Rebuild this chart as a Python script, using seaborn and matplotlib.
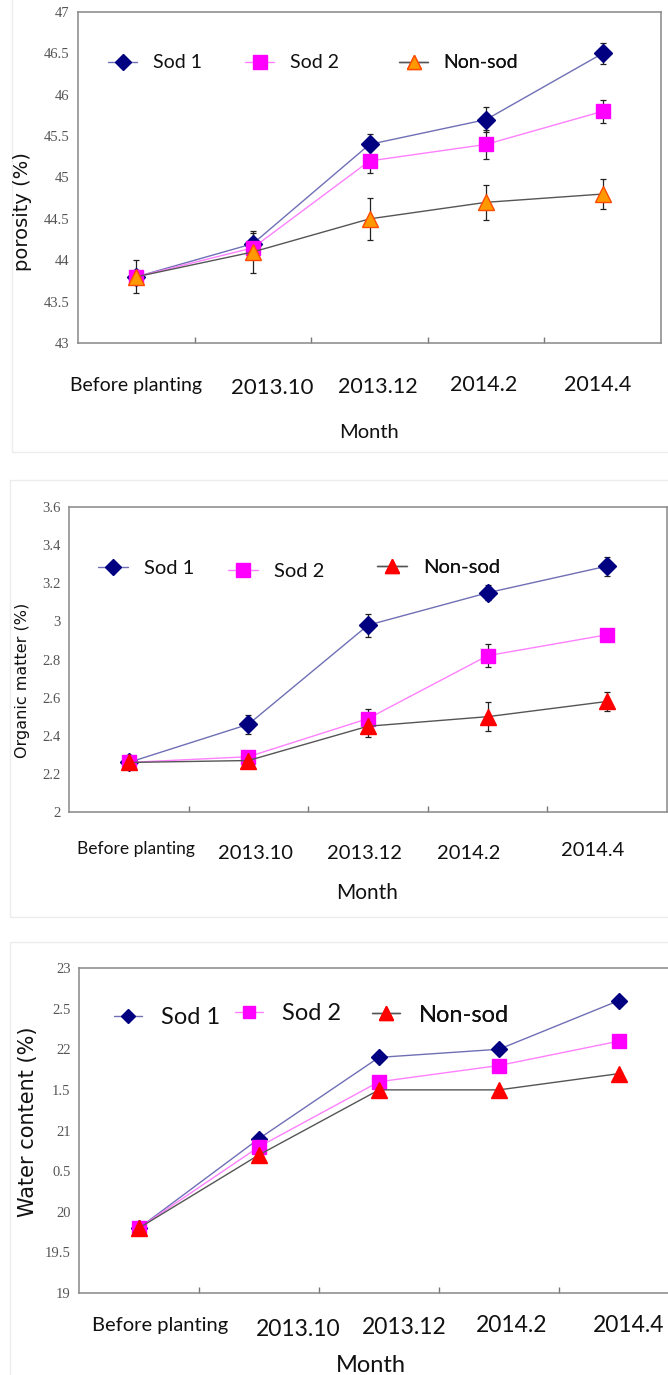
import numpy as np
import pandas as pd
import matplotlib
matplotlib.use("Agg")
import matplotlib.pyplot as plt
from matplotlib.lines import Line2D
from matplotlib.patches import Rectangle
import matplotlib.transforms as mtransforms
import seaborn as sns

# ---------------- data ----------------
months = ["Before planting", "2013.10", "2013.12", "2014.2", "2014.4"]
treatments = ["Sod 1", "Sod 2", "Non-sod"]

porosity_sod1 = [43.8, 44.2, 45.4, 45.7, 46.5]
porosity_sod2 = [43.8, 44.15, 45.2, 45.4, 45.8]
porosity_nonsod = [43.8, 44.1, 44.5, 44.7, 44.8]
porosity_err_sod1 = [0.0, 0.13, 0.13, 0.15, 0.13]
porosity_err_sod2 = [0.0, 0.0, 0.15, 0.18, 0.14]
porosity_err_nonsod = [0.2, 0.25, 0.25, 0.21, 0.18]

organic_sod1 = [2.26, 2.46, 2.98, 3.15, 3.29]
organic_sod2 = [2.26, 2.29, 2.49, 2.82, 2.93]
organic_nonsod = [2.26, 2.27, 2.45, 2.50, 2.58]
organic_err_sod1 = [0.0, 0.05, 0.06, 0.04, 0.05]
organic_err_sod2 = [0.0, 0.0, 0.05, 0.06, 0.02]
organic_err_nonsod = [0.0, 0.0, 0.055, 0.076, 0.05]

water_sod1 = [19.8, 20.9, 21.9, 22.0, 22.6]
water_sod2 = [19.8, 20.8, 21.6, 21.8, 22.1]
water_nonsod = [19.8, 20.7, 21.5, 21.5, 21.7]

porosity_ticks = [43, 43.5, 44, 44.5, 45, 45.5, 46, 46.5, 47]
porosity_ticklabels = ["43", "43.5", "44", "44.5", "45", "45.5", "46", "46.5", "47"]
organic_ticks = [2.0, 2.2, 2.4, 2.6, 2.8, 3.0, 3.2, 3.4, 3.6]
organic_ticklabels = ["2", "2.2", "2.4", "2.6", "2.8", "3", "3.2", "3.4", "3.6"]
water_ticks = [19, 19.5, 20, 20.5, 21, 21.5, 22, 22.5, 23]
water_ticklabels = ["19", "19.5", "20", "0.5", "21", "1.5", "22", "2.5", "23"]

# ---------------- style ----------------
sns.set_theme(style="white")
plt.rcParams["font.family"] = ["Lato", "DejaVu Sans"]

W, H = 668, 1375
fig = plt.figure(figsize=(W / 100, H / 100), dpi=100)
fig.patch.set_facecolor("white")

line_colors = {"Sod 1": "#6f6fb6", "Sod 2": "#ff80ff", "Non-sod": "#555555"}
marker_shapes = {"Sod 1": "D", "Sod 2": "s", "Non-sod": "^"}


def px_axes(left, top, right, bottom):
    return fig.add_axes([left / W, 1 - bottom / H, (right - left) / W, (bottom - top) / H])


def fig_xy(x, y):
    return x / W, 1 - y / H


def panel_frame(x0, y0, x1, y1):
    fig.patches.append(Rectangle((x0 / W, 1 - y1 / H), (x1 - x0) / W, (y1 - y0) / H,
                                 transform=fig.transFigure, fill=False,
                                 edgecolor="#ececec", lw=1.0, zorder=0))


def draw_panel(ax, values, errors, face, edge, msizes, ylim, ticks, ticklabels,
               ylabel, ylabel_xy, ylabel_size,
               label_dx, label_dy, label_sizes, month_xy, month_size,
               legend_pos, legend_size, handle_len):
    rows = []
    for name, vals in zip(treatments, values):
        for i, (m, v) in enumerate(zip(months, vals)):
            rows.append({"pos": i, "month": m, "treatment": name, "value": v})
    df = pd.DataFrame(rows)

    if errors is not None:
        for name, vals, errs in zip(treatments, values, errors):
            ax.errorbar(np.arange(len(months)), vals, yerr=errs, fmt="none",
                        ecolor="#222222", elinewidth=0.9, capsize=2.5,
                        capthick=0.9, zorder=1.5)

    n_before = len(ax.lines)
    sns.lineplot(data=df, x="pos", y="value", hue="treatment", style="treatment",
                 hue_order=treatments, style_order=treatments,
                 palette=line_colors, markers=marker_shapes, dashes=False,
                 errorbar=None, sort=False, linewidth=1.0, legend=False, ax=ax)
    for line, name in zip(ax.lines[n_before:], treatments):
        line.set_markerfacecolor(face[name])
        line.set_markeredgecolor(edge[name])
        line.set_markersize(msizes[name])
        line.set_markeredgewidth(1.0)
        line.set_zorder(3)

    ax.set_xlim(-0.5, len(months) - 0.5)
    ax.set_ylim(*ylim)
    ax.set_xlabel("")
    ax.set_ylabel("")
    ax.set_xticks(np.arange(len(months) - 1) + 0.5)
    ax.set_xticklabels([])
    ax.tick_params(axis="x", direction="in", length=4.5, width=1.0, color="#777777",
                   bottom=True)
    ax.set_yticks(ticks)
    ax.set_yticklabels(ticklabels, family=["Liberation Serif"], fontsize=10.5,
                       color="#555555")
    ax.tick_params(axis="y", length=0, pad=6)
    for sp in ax.spines.values():
        sp.set_color("#888888")
        sp.set_linewidth(1.1)

    trans = mtransforms.blended_transform_factory(ax.transData, ax.transAxes)
    for i, m in enumerate(months):
        ax.annotate(m, xy=(i, 0), xycoords=trans,
                    xytext=(label_dx[i] * 0.72, -label_dy[i] * 0.72),
                    textcoords="offset points", ha="center", va="center",
                    fontsize=label_sizes[i], color="#111111", annotation_clip=False)

    fig.text(*fig_xy(*month_xy), "Month", ha="center", va="center",
             fontsize=month_size, color="#111111")
    fig.text(*fig_xy(*ylabel_xy), ylabel, ha="center", va="center", rotation=90,
             fontsize=ylabel_size, family=["DejaVu Sans"], color="#111111")

    for name, (x, y) in zip(treatments, legend_pos):
        handle = Line2D([], [], color=line_colors[name], lw=1.0,
                        marker=marker_shapes[name], markersize=msizes[name] * 0.9,
                        markerfacecolor=face[name], markeredgecolor=edge[name])
        leg = ax.legend([handle], [name], loc="center left",
                        bbox_to_anchor=fig_xy(x, y), bbox_transform=fig.transFigure,
                        frameon=False, handlelength=handle_len, handletextpad=0.8,
                        borderpad=0, borderaxespad=0, fontsize=legend_size)
        for t in leg.get_texts():
            t.set_color("#111111")
        ax.add_artist(leg)


# ---------------- panel 1: porosity ----------------
panel_frame(12, -2, 670, 452)
ax1 = px_axes(78, 12, 661, 343)
face1 = {"Sod 1": "#000080", "Sod 2": "#ff00ff", "Non-sod": "#ff9900"}
edge1 = {"Sod 1": "#000080", "Sod 2": "#ff00ff", "Non-sod": "#ff4a00"}
size1 = {"Sod 1": 9.0, "Sod 2": 10.5, "Non-sod": 11.5}
draw_panel(ax1, [porosity_sod1, porosity_sod2, porosity_nonsod],
           [porosity_err_sod1, porosity_err_sod2, porosity_err_nonsod],
           face1, edge1, size1, (43, 47), porosity_ticks, porosity_ticklabels,
           "porosity (%)", (23, 212), 14,
           [0, 19, 8, -2, -5], [42, 45, 44, 42, 42], [14, 16, 15.5, 15.5, 15.5],
           (369, 433), 14.5,
           [(108, 63), (245, 63), (399, 63)], 14, 1.5)

# ---------------- panel 2: organic matter ----------------
panel_frame(10, 480, 670, 917)
ax2 = px_axes(69, 507, 667, 812)
face2 = {"Sod 1": "#000080", "Sod 2": "#ff00ff", "Non-sod": "#ff0000"}
edge2 = {"Sod 1": "#000080", "Sod 2": "#ff00ff", "Non-sod": "#ff0000"}
size2 = {"Sod 1": 9.0, "Sod 2": 10.5, "Non-sod": 11.0}
draw_panel(ax2, [organic_sod1, organic_sod2, organic_nonsod],
           [organic_err_sod1, organic_err_sod2, organic_err_nonsod],
           face2, edge2, size2, (2.0, 3.6), organic_ticks, organic_ticklabels,
           "Organic matter (%)", (22, 680), 11.5,
           [7, 7, -4, -19, -15], [37, 41, 41, 41, 38], [12.5, 14.5, 14.5, 14.5, 14.5],
           (367, 893), 15,
           [(98, 568), (228, 571), (377, 567)], 14.5, 1.5)

# ---------------- panel 3: water content ----------------
panel_frame(10, 942, 670, 1377)
ax3 = px_axes(79, 968, 679, 1293)
face3 = {"Sod 1": "#000080", "Sod 2": "#ff00ff", "Non-sod": "#ff0000"}
edge3 = {"Sod 1": "#000080", "Sod 2": "#ff00ff", "Non-sod": "#ff0000"}
size3 = {"Sod 1": 8.0, "Sod 2": 10.0, "Non-sod": 11.0}
draw_panel(ax3, [water_sod1, water_sod2, water_nonsod], None,
           face3, edge3, size3, (19, 23), water_ticks, water_ticklabels,
           "Water content (%)", (28, 1122), 15,
           [21, 39, 25, 13, 10], [32, 37, 35, 32, 32], [14.5, 16.5, 16.5, 16.5, 16.5],
           (371, 1365), 17,
           [(114, 1018), (235, 1014), (372, 1015)], 17, 1.2)

fig.savefig("out.png", dpi=100, facecolor="white")
